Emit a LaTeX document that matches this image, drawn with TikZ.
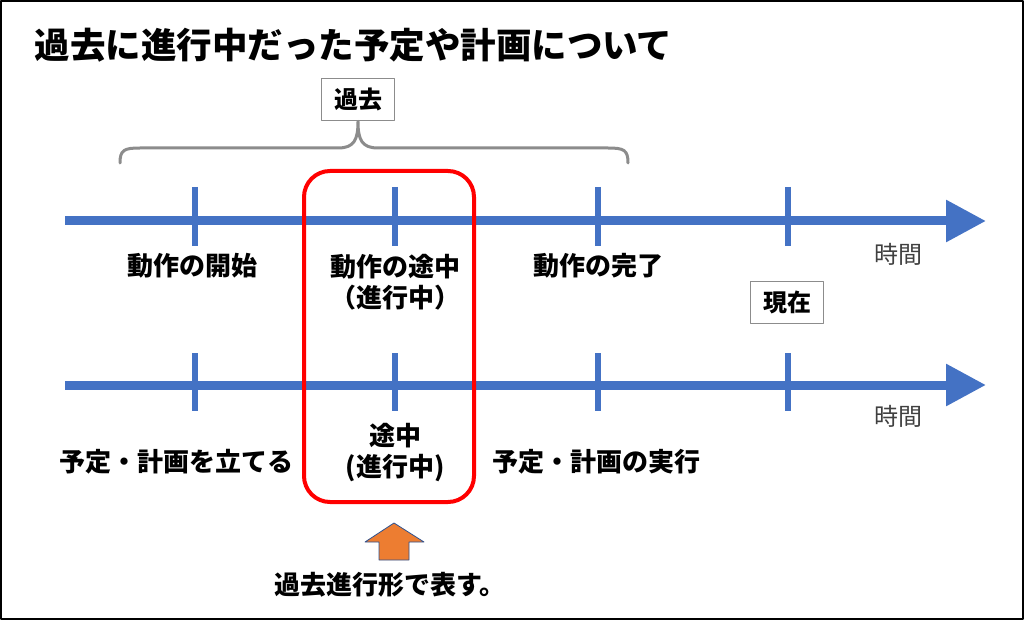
\documentclass[tikz,border=0pt]{standalone}
\usepackage{fontspec}
\setmainfont{Noto Sans CJK JP}
\usepackage{tikz}
\usetikzlibrary{calc}
\usetikzlibrary{arrows.meta}

\definecolor{lineblue}{HTML}{4472C4}
\definecolor{edgeblue}{HTML}{2F528F}
\definecolor{arrorange}{HTML}{ED7D31}

\begin{document}
\begin{tikzpicture}[x=1pt, y=-1pt, line join = round,
    timeline/.style={line width=9pt, lineblue, -{Triangle[length=40pt,width=40pt]}},
    tick/.style={line width=6pt, lineblue},
    lbl/.style={font=\fontsize{26}{31}\selectfont\bfseries, align=center},
    jikan/.style={font=\fontsize{24}{28}\selectfont, text=black!75},
    tagbox/.style={draw=black!45, line width=1pt, fill=white, font=\fontsize{24}{28}\selectfont\bfseries, minimum width=73pt, minimum height=42pt, inner sep=0pt}]
        \useasboundingbox (0,0) rectangle (1024,620);
        \draw[line width=2pt] (1,1) rectangle (1023,619);

        \node[anchor=west, font=\fontsize{35.5}{40}\selectfont\bfseries] (title) at (31,45) {過去に進行中だった予定や計画について};

        % the two time axes
        \coordinate (a1) at (65,221);
        \coordinate (b1) at (986,221);
        \coordinate (a2) at (65,385);
        \coordinate (b2) at (986,385);
        \draw[timeline] (a1) -- (b1);
        \draw[timeline] (a2) -- (b2);
        \foreach \i/\x in {1/195, 2/395, 3/598, 4/788}{
            \coordinate (u\i) at (\x,221);
            \coordinate (d\i) at (\x,385);
            \draw[tick] ($(u\i)+(0,-34)$) -- ($(u\i)+(0,25)$);
            \draw[tick] ($(d\i)+(0,-32)$) -- ($(d\i)+(0,26)$);
        }
        \node[jikan] (time1) at (898,254) {時間};
        \node[jikan] (time2) at (898,416) {時間};

        % brace over the past
        \node[tagbox] (past) at (358,100) {過去};
        \draw[line width=3pt, black!45, line cap=round]
            (120,163) .. controls (120,150) and (124,148) .. (140,148) -- (338,148)
            .. controls (354,148) and (358,140) .. (past.south)
            .. controls (358,140) and (362,148) .. (378,148) -- (608,148)
            .. controls (624,148) and (628,150) .. (628,163);

        % labels
        \node[lbl] (start) at ($(u1)+(-3,45)$) {動作の開始};
        \node[lbl] (mid) at ($(u2)+(0,61)$) {動作の途中\\（進行中）};
        \node[lbl] (done) at ($(u3)+(0,45)$) {動作の完了};
        \node[tagbox] (now) at (787,302) {現在};
        \node[lbl] (plan) at ($(d1)+(-19,77)$) {予定・計画を立てる};
        \node[lbl] (mid2) at ($(d2)+(0,68)$) {途中\\(進行中)};
        \node[lbl] (exec) at ($(d3)+(-2,77)$) {予定・計画の実行};

        \draw[red, line width=4pt, rounded corners=26pt] (304,171) rectangle (474,502);

        % pointer
        \draw[fill=arrorange, draw=edgeblue, line width=0.8pt]
            (379,560) -- (379,542) -- (365,542) -- (394,523) -- (424,542) -- (409,542) -- (409,560) -- cycle;
        \node[lbl] (note) at (390,585) {過去進行形で表す。};
\end{tikzpicture}
\end{document}
